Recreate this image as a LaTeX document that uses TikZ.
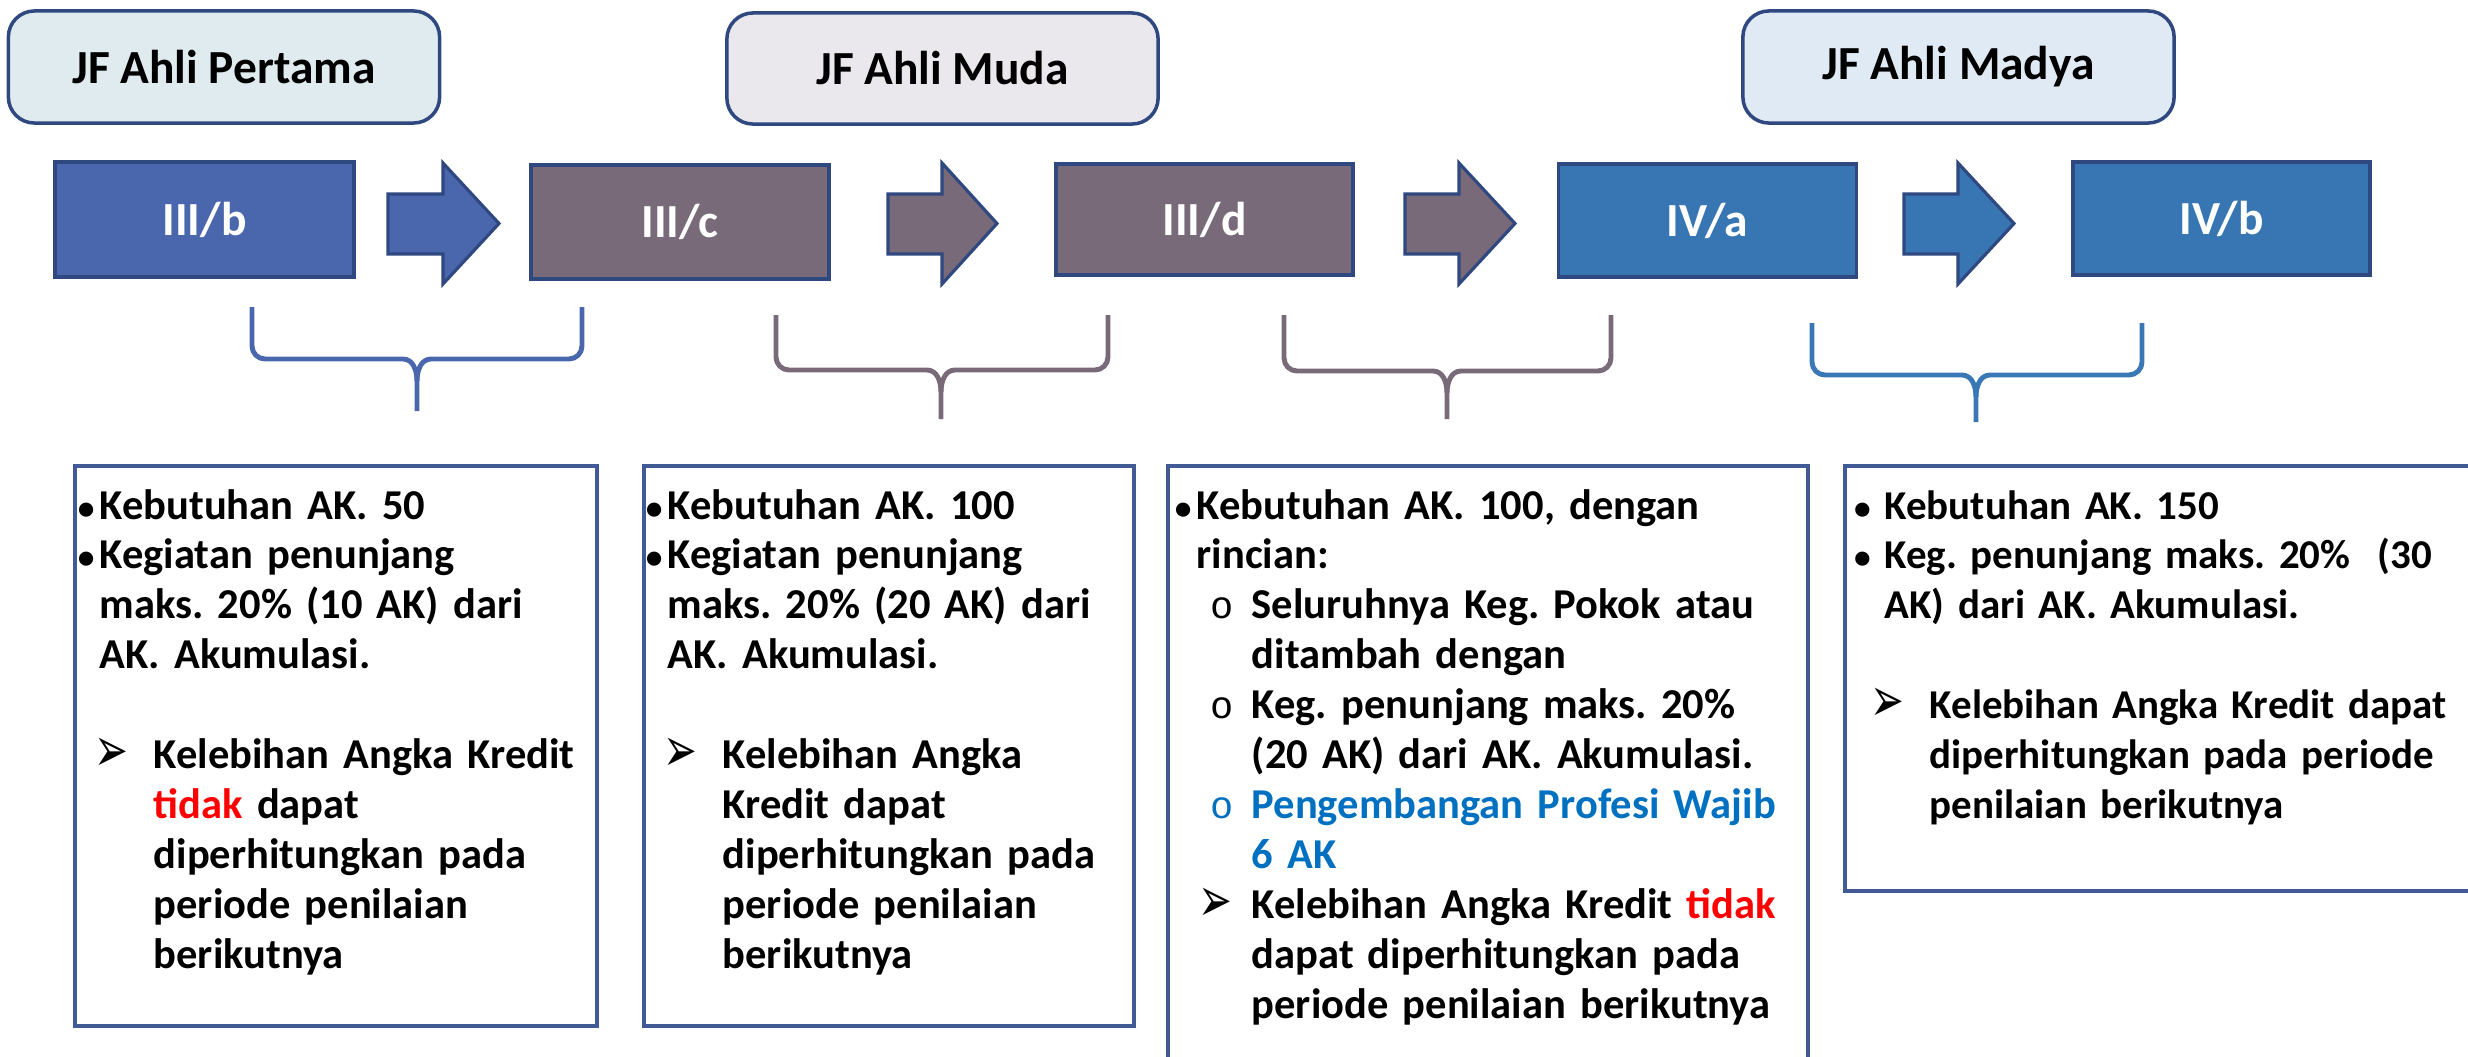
\documentclass[tikz,border=0pt]{standalone}
\usepackage{fontspec}
\setmainfont{Carlito}
\newfontfamily\symfont{DejaVu Sans}
\newfontfamily\ringfont{Liberation Mono}
\usetikzlibrary{calc}

\definecolor{gradeblue}{RGB}{74,103,173}
\definecolor{grademauve}{RGB}{121,106,122}
\definecolor{gradesky}{RGB}{55,118,178}
\definecolor{bracesky}{RGB}{58,120,181}
\definecolor{edgeblue}{RGB}{47,72,128}
\definecolor{boxedge}{RGB}{65,90,150}
\definecolor{fillA}{RGB}{223,235,239}
\definecolor{fillB}{RGB}{234,232,236}
\definecolor{fillC}{RGB}{224,234,244}
\definecolor{warnred}{RGB}{255,0,0}
\definecolor{noteblue}{RGB}{0,112,192}

% list marks: bullet hangs left of the text, arrow marks and rings take a fixed indent
\newlength\bulgap
\newlength\arww
\newlength\arwo
\newcommand\bul{\leavevmode\llap{{\fontsize{9.5}{11}\selectfont•}\kern\bulgap}}
\newcommand\arw{\makebox[\arww][l]{\kern\arwo\raisebox{-0.07em}{\scalebox{1.0}[1.55]{\fontsize{11.5}{12}\symfont ➢}}}}
\newcommand\hia{\hspace*{\arww}}
\newcommand\ring{\makebox[\arww][l]{\kern0.14cm{\fontsize{11}{12}\ringfont\mdseries o}}}

% a downward curly brace: colour, left x, right x, middle x, top y, bar y, tip y
\newcommand\curly[7]{%
  \draw[bracestyle,#1] (#2,#5) -- (#2,#6-13) to[out=-90,in=180] (#2+13,#6)
    -- (#4-14,#6) to[out=0,in=90] (#4,#6+22) -- (#4,#7);
  \draw[bracestyle,#1] (#3,#5) -- (#3,#6-13) to[out=-90,in=0] (#3-13,#6)
    -- (#4+14,#6) to[out=180,in=90] (#4,#6+22);
}

\tikzset{
  x=0.01cm, y=-0.01cm,
  titlebox/.style={draw=edgeblue, line width=1pt, rounded corners=0.26cm,
    inner sep=0pt, font=\fontsize{13.5}{16}\selectfont\bfseries},
  gradebox/.style={draw=edgeblue, line width=1pt, inner sep=0pt, text=white,
    font=\fontsize{13.5}{16}\selectfont\bfseries},
  blockarrow/.style={draw=edgeblue, line width=0.9pt, line join=miter},
  infobox/.style={draw=boxedge, line width=1pt, fill=white, inner sep=0pt},
  bodytext/.style={anchor=base west, inner sep=0pt, text width=7cm, align=left,
    font=\fontsize{12.1}{14.2}\selectfont\bfseries\frenchspacing},
  bracestyle/.style={line width=1.4pt},
}

\begin{document}
\begin{tikzpicture}
\useasboundingbox (0,0) rectangle (2468,1057);
\clip (0,0) rectangle (2468,1057);

% level titles
\node[titlebox, fill=fillA, minimum width=4.31cm, minimum height=1.12cm] (tA) at (224,67) {JF Ahli Pertama};
\node[titlebox, fill=fillB, minimum width=4.31cm, minimum height=1.11cm] (tB) at (942.5,68.5) {JF Ahli Muda};
\node[titlebox, fill=fillC, minimum width=4.31cm, minimum height=1.12cm] (tC) at (1958.5,67) {JF Ahli Madya};

% grades
\node[gradebox, fill=gradeblue, minimum width=2.99cm, minimum height=1.15cm] (g1) at (204.5,219.5) {III/b};
\node[gradebox, fill=grademauve, minimum width=2.98cm, minimum height=1.14cm] (g2) at (680,222) {III/c};
\node[gradebox, fill=grademauve, minimum width=2.97cm, minimum height=1.11cm] (g3) at (1204.5,219.5) {III/d};
\node[gradebox, fill=gradesky, minimum width=2.98cm, minimum height=1.13cm] (g4) at (1707.5,220.5) {IV/a};
\node[gradebox, fill=gradesky, minimum width=2.97cm, minimum height=1.13cm] (g5) at (2221.5,218.5) {IV/b};

% block arrows between grades
\foreach \xs/\xh/\xt/\col in {388/443/499/gradeblue, 888/942/997/grademauve,
                              1405/1459/1515/grademauve, 1904/1958/2014/gradesky}{
  \draw[blockarrow, fill=\col] (\xs,194) -- (\xh,194) -- (\xh,163) -- (\xt,223.5)
    -- (\xh,284) -- (\xh,254) -- (\xs,254) -- cycle;
}

% braces
\curly{gradeblue}{252}{582}{417}{307}{359}{411}
\curly{grademauve}{776}{1108}{941}{315}{370}{419}
\curly{grademauve}{1284}{1611}{1447}{315}{371}{419}
\curly{bracesky}{1812}{2142}{1976}{323}{375}{422}

% requirement boxes
\node[infobox, minimum width=5.22cm, minimum height=5.60cm] (t1) at (336,746) {};
\node[infobox, minimum width=4.90cm, minimum height=5.60cm] (t2) at (889,746) {};
\node[infobox, minimum width=6.40cm, minimum height=6.40cm] (t3) at (1488,786) {};
\node[infobox, minimum width=8.00cm, minimum height=4.25cm] (t4) at (2245,678.5) {};

\node[bodytext] (x1) at (99,519) {\setlength\bulgap{1.5pt}\setlength\arww{0.54cm}\setlength\arwo{-0.05cm}%
\bul Kebutuhan AK. 50\\
\bul Kegiatan penunjang\\
maks. 20\% (10 AK) dari\\
AK. Akumulasi.\\
\mbox{}\\
\arw Kelebihan Angka Kredit\\
\hia\textcolor{warnred}{tidak} dapat\\
\hia diperhitungkan pada\\
\hia periode penilaian\\
\hia berikutnya};

\node[bodytext] (x2) at (667,519) {\setlength\bulgap{1.5pt}\setlength\arww{0.55cm}\setlength\arwo{-0.04cm}%
\bul Kebutuhan AK. 100\\
\bul Kegiatan penunjang\\
maks. 20\% (20 AK) dari\\
AK. Akumulasi.\\
\mbox{}\\
\arw Kelebihan Angka\\
\hia Kredit dapat\\
\hia diperhitungkan pada\\
\hia periode penilaian\\
\hia berikutnya};

\node[bodytext] (x3) at (1196,519) {\setlength\bulgap{1.5pt}\setlength\arww{0.55cm}\setlength\arwo{0.02cm}%
\bul Kebutuhan AK. 100, dengan\\
rincian:\\
\ring Seluruhnya Keg. Pokok atau\\
\hia ditambah dengan\\
\ring Keg. penunjang maks. 20\%\\
\hia (20 AK) dari AK. Akumulasi.\\
{\color{noteblue}\ring Pengembangan Profesi Wajib}\\
\hia{\color{noteblue}6 AK}\\
\arw Kelebihan Angka Kredit \textcolor{warnred}{tidak}\\
\hia dapat diperhitungkan pada\\
\hia periode penilaian berikutnya};

\node[bodytext, font=\fontsize{11.65}{14.2}\selectfont\bfseries\frenchspacing] (x4) at (1884,519) {\setlength\bulgap{4pt}\setlength\arww{0.45cm}\setlength\arwo{-0.14cm}%
\bul Kebutuhan AK. 150\\
\bul Keg. penunjang maks. 20\%\ \ (30\\
AK) dari AK. Akumulasi.\\
\mbox{}\\
\arw Kelebihan Angka Kredit dapat\\
\hia diperhitungkan pada periode\\
\hia penilaian berikutnya};
\end{tikzpicture}
\end{document}
